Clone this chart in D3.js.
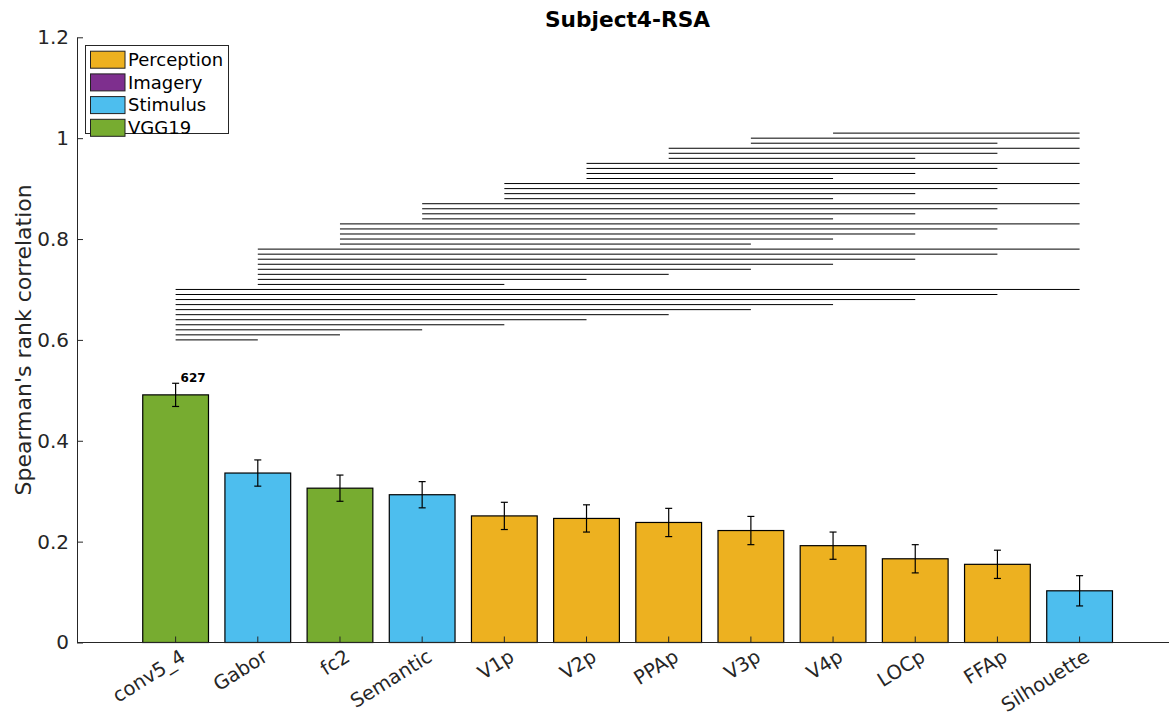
<!DOCTYPE html>
<html>
<head>
<meta charset="utf-8">
<script src="https://cdn.jsdelivr.net/npm/d3@7"></script>
<style>
  html, body { margin: 0; padding: 0; background: #fff; }
  svg { display: block; font-family: "DejaVu Sans", sans-serif; }
</style>
</head>
<body>
<svg id="chart" width="1169" height="720"></svg>
<script>
// ---- data ----
const categories = ["conv5_4", "Gabor", "fc2", "Semantic", "V1p", "V2p", "PPAp", "V3p", "V4p", "LOCp", "FFAp", "Silhouette"];
const groups     = ["VGG19", "Stimulus", "VGG19", "Stimulus", "Perception", "Perception", "Perception", "Perception", "Perception", "Perception", "Perception", "Stimulus"];
const values     = [0.491, 0.336, 0.306, 0.293, 0.251, 0.246, 0.238, 0.222, 0.192, 0.166, 0.155, 0.1025];
const errors     = [0.023, 0.026, 0.026, 0.026, 0.027, 0.027, 0.028, 0.028, 0.027, 0.028, 0.028, 0.030];
const legendNames  = ["Perception", "Imagery", "Stimulus", "VGG19"];
const legendColors = ["#EDB120", "#7E2F8E", "#4DBEEE", "#77AC30"];
const yTicks = [0, 0.2, 0.4, 0.6, 0.8, 1, 1.2];
const yTickLabels = ["0", "0.2", "0.4", "0.6", "0.8", "1", "1.2"];
const annotation = { index: 0, text: "627" };
// significance lines: [from index, to index, level]
const sigFrom  = [0,0,0,0,0,0,0,0,0,0,0, 1,1,1,1,1,1,1,1, 2,2,2,2,2, 3,3,3,3, 4,4,4,4, 5,5,5,5, 6,6,6, 7,7, 8];
const sigTo    = [1,2,3,4,5,6,7,8,9,10,11, 4,5,6,7,8,9,10,11, 7,8,9,10,11, 8,9,10,11, 8,9,10,11, 8,9,10,11, 9,10,11, 10,11, 11];
const sigLevel = [0.60,0.61,0.62,0.63,0.64,0.65,0.66,0.67,0.68,0.69,0.70,
                  0.71,0.72,0.73,0.74,0.75,0.76,0.77,0.78,
                  0.79,0.80,0.81,0.82,0.83,
                  0.84,0.85,0.86,0.87,
                  0.88,0.89,0.90,0.91,
                  0.92,0.93,0.94,0.95,
                  0.96,0.97,0.98,
                  0.99,1.00,
                  1.01];

// ---- layout ----
const svg = d3.select("#chart");
const axisColor = "#262626";
const color = d3.scaleOrdinal().domain(legendNames).range(legendColors);
const x = d3.scaleLinear().domain([-1.2, 12.1]).range([77, 1170]);
const y = d3.scaleLinear().domain([0, 1.2]).range([642.5, 37.3]);
const bw = x(0.8) - x(0);
const capW = 7;

// bars
svg.append("g").selectAll("rect").data(values).join("rect")
  .attr("x", (d, i) => x(i) - bw / 2)
  .attr("y", d => y(d))
  .attr("width", bw)
  .attr("height", d => y(0) - y(d))
  .attr("fill", (d, i) => color(groups[i]))
  .attr("stroke", "#000").attr("stroke-width", 1.2);

// error bars
const eg = svg.append("g").attr("stroke", "#000").attr("stroke-width", 1.2);
values.forEach((v, i) => {
  const cx = x(i);
  eg.append("line").attr("x1", cx).attr("x2", cx).attr("y1", y(v - errors[i])).attr("y2", y(v + errors[i]));
  eg.append("line").attr("x1", cx - capW / 2).attr("x2", cx + capW / 2).attr("y1", y(v - errors[i])).attr("y2", y(v - errors[i]));
  eg.append("line").attr("x1", cx - capW / 2).attr("x2", cx + capW / 2).attr("y1", y(v + errors[i])).attr("y2", y(v + errors[i]));
});

// annotation
svg.append("text")
  .attr("x", x(annotation.index) + 5)
  .attr("y", y(values[annotation.index] + errors[annotation.index]) - 1)
  .attr("font-size", 12).attr("font-weight", "bold").attr("fill", "#000")
  .text(annotation.text);

// significance lines
svg.append("g").selectAll("line").data(sigLevel).join("line")
  .attr("x1", (d, k) => x(sigFrom[k]))
  .attr("x2", (d, k) => x(sigTo[k]))
  .attr("y1", d => y(d)).attr("y2", d => y(d))
  .attr("stroke", "#000").attr("stroke-width", 1);

// y axis
const yAxis = d3.axisLeft(y).tickValues(yTicks).tickFormat((d, i) => yTickLabels[i])
  .tickSizeInner(-6).tickSizeOuter(0).tickPadding(8);
const ya = svg.append("g").attr("transform", `translate(${x(-1.2)},0)`).call(yAxis);
ya.select(".domain").attr("stroke", axisColor);
ya.selectAll(".tick line").attr("stroke", axisColor);
ya.selectAll(".tick text").attr("fill", axisColor).attr("font-size", 20).attr("font-family", "DejaVu Sans");

// x axis
const xa = svg.append("g");
xa.append("line").attr("x1", x(-1.2)).attr("x2", 1169).attr("y1", y(0)).attr("y2", y(0)).attr("stroke", axisColor);
xa.selectAll("line.tk").data(categories).join("line").attr("class", "tk")
  .attr("x1", (d, i) => x(i)).attr("x2", (d, i) => x(i))
  .attr("y1", y(0)).attr("y2", y(0) - 6).attr("stroke", axisColor);
xa.selectAll("text").data(categories).join("text")
  .attr("transform", (d, i) => `translate(${x(i) + 4},${y(0) + 6}) rotate(-32)`)
  .attr("text-anchor", "end").attr("dy", "0.7em")
  .attr("font-size", 19.5).attr("fill", axisColor)
  .text(d => d);

// y label
svg.append("text")
  .attr("transform", `translate(31,${(y(0) + y(1.2)) / 2}) rotate(-90)`)
  .attr("text-anchor", "middle")
  .attr("font-size", 22).attr("fill", axisColor)
  .text("Spearman's rank correlation");

// title
svg.append("text")
  .attr("x", 627.5).attr("y", 27).attr("text-anchor", "middle")
  .attr("font-size", 21.7).attr("font-weight", "bold").attr("fill", "#000")
  .text("Subject4-RSA");

// legend
const lg = svg.append("g");
lg.append("rect").attr("x", 85.5).attr("y", 45.5).attr("width", 143).attr("height", 88)
  .attr("fill", "#fff").attr("stroke", axisColor).attr("stroke-width", 1);
legendNames.forEach((n, i) => {
  const cy = 59.7 + i * 22.7;
  lg.append("rect").attr("x", 90.5).attr("y", cy - 8.5).attr("width", 34.5).attr("height", 17)
    .attr("fill", legendColors[i]).attr("stroke", "#222").attr("stroke-width", 1);
  lg.append("text").attr("x", 128).attr("y", cy).attr("dy", "0.35em")
    .attr("font-size", 18).attr("fill", "#000").text(n);
});
</script>
</body>
</html>
